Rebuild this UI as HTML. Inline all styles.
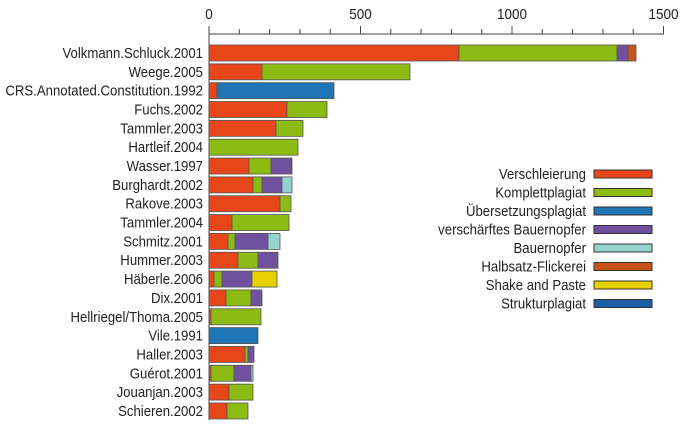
<!DOCTYPE html>
<html><head><meta charset="utf-8"><style>
html,body{margin:0;padding:0;background:#fff;}
svg{display:block;font-family:"Liberation Sans",sans-serif;}
</style></head><body>
<svg id="s" width="685" height="425" xmlns="http://www.w3.org/2000/svg"></svg>
<script>
const C={r:"#e64619",g:"#8cbb14",b:"#1f74b4",p:"#7051a0",c:"#95d3d0",o:"#c9541b",y:"#e6d000",s:"#1b5ea8"};
const rows=[
["Volkmann.Schluck.2001",[["r",459],["g",617],["p",628],["o",636]]],
["Weege.2005",[["r",262],["g",410]]],
["CRS.Annotated.Constitution.1992",[["r",217],["b",334]]],
["Fuchs.2002",[["r",287],["g",327]]],
["Tammler.2003",[["r",276],["g",303]]],
["Hartleif.2004",[["g",298]]],
["Wasser.1997",[["r",249],["g",271],["p",291],["b",292]]],
["Burghardt.2002",[["r",253],["g",262],["p",282],["c",292]]],
["Rakove.2003",[["r",280],["g",291]]],
["Tammler.2004",[["r",232],["g",289]]],
["Schmitz.2001",[["r",228],["g",235],["p",268],["c",280]]],
["Hummer.2003",[["r",238],["g",258],["p",278]]],
["Häberle.2006",[["r",214],["g",222],["p",252],["y",277]]],
["Dix.2001",[["r",226],["g",251],["p",262]]],
["Hellriegel/Thoma.2005",[["r",211],["g",261]]],
["Vile.1991",[["b",258]]],
["Haller.2003",[["r",245],["g",248],["p",254]]],
["Guérot.2001",[["r",211],["g",234],["p",251],["c",253]]],
["Jouanjan.2003",[["r",229],["g",253]]],
["Schieren.2002",[["r",227],["g",248]]]];
let h='';
const x0=209;
const T=(x,y,t,anchor,size,sc)=>`<text transform="translate(${x},${y}) scale(${sc||0.878},1)" font-size="${size||15}" text-anchor="${anchor}" fill="#222">${t}</text>`;
h+=`<line x1="${x0}" y1="34" x2="664" y2="34" stroke="#444" stroke-width="1"/>`;
h+=`<line x1="${x0}" y1="26" x2="${x0}" y2="420" stroke="#444" stroke-width="1"/>`;
for(let i=0;i<=15;i++){const x=x0+i*30.3;const big=i%5==0;h+=`<line x1="${x}" y1="${big?26:29}" x2="${x}" y2="34" stroke="#444"/>`;}
[[0,"0"],[500,"500"],[1000,"1000"],[1500,"1500"]].forEach(([v,t])=>{h+=T(x0+v*0.303,19,t,"middle",15,0.9);});
rows.forEach((r,i)=>{const cy=53+i*18.84;let x=x0;
 h+=T(203,cy+5,r[0],"end");
 r[1].forEach(([k,e])=>{h+=`<rect x="${x}" y="${cy-8}" width="${e-x}" height="16" fill="${C[k]}" stroke="#555" stroke-width="0.8"/>`;x=e;});
});
const L=[["Verschleierung","r"],["Komplettplagiat","g"],["Übersetzungsplagiat","b"],["verschärftes Bauernopfer","p"],["Bauernopfer","c"],["Halbsatz-Flickerei","o"],["Shake and Paste","y"],["Strukturplagiat","s"]];
L.forEach(([t,k],i)=>{const cy=174+i*18.5;
 h+=T(586,cy+5,t,"end");
 h+=`<rect x="594" y="${cy-4}" width="58" height="8" fill="${C[k]}" stroke="#333" stroke-width="1"/>`;});
document.getElementById('s').innerHTML=h;
</script>
</body></html>
